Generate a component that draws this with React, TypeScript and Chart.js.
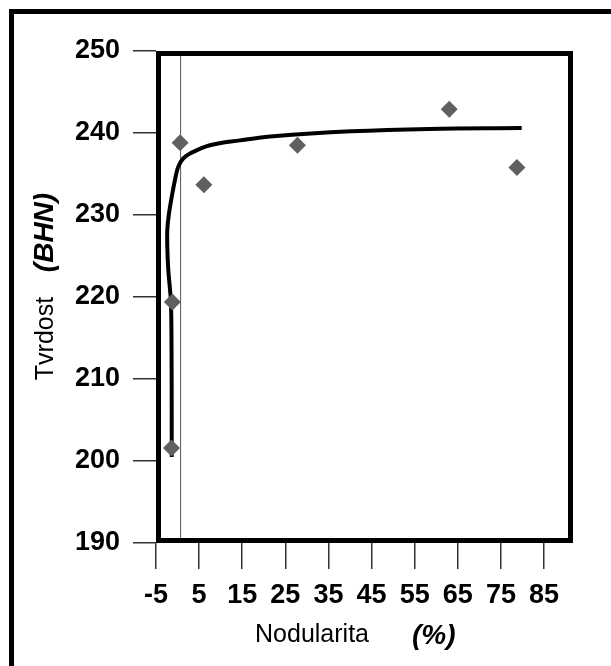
import { useEffect, useRef } from "react";
import { Chart, registerables } from "chart.js";

Chart.register(...registerables);

// Measured samples: nodularity (%) vs. hardness (BHN)
const nodularity = [-1.4, -1.2, 0.6, 6.1, 27.8, 63.0, 78.7];
const hardness = [201.6, 219.4, 238.8, 233.7, 238.5, 242.9, 235.8];

// Fitted trend curve
const trendNodularity = [-1.36, -1.36, -1.4, -1.52, -1.75, -2.15, -2.38, -2.38, -1.98, -1.36, -0.59, 0.17, 1.33, 2.89, 7.5, 14.5, 22.2, 40.2, 58.3, 79.8];
const trendHardness = [200.5, 205.9, 213.9, 219.3, 220.9, 223.3, 226.1, 228.2, 230.2, 232.2, 234.3, 235.9, 236.9, 237.5, 238.5, 239.1, 239.6, 240.2, 240.5, 240.6];

// Thin vertical marker line
const markerX = 0.7;

// Axes
const xMin = -5;
const xMax = 91.7;
const yMin = 190;
const yMax = 250;
const xTicks = [-5, 5, 15, 25, 35, 45, 55, 65, 75, 85];
const yTicks = [190, 200, 210, 220, 230, 240, 250];

const FONT = '"Liberation Sans", Arial, Helvetica, sans-serif';

const plotFrame = {
  id: "plotFrame",
  afterDatasetsDraw(chart: any) {
    const { ctx, chartArea: a } = chart;
    ctx.save();
    ctx.strokeStyle = "#000";
    ctx.lineWidth = 5;
    ctx.strokeRect(a.left + 2.5, a.top + 2.5, a.right - a.left - 5, a.bottom - a.top - 5);
    ctx.restore();
  },
};

const axisTitles = {
  id: "axisTitles",
  afterDraw(chart: any) {
    const { ctx } = chart;
    ctx.save();
    ctx.fillStyle = "#000";
    ctx.textBaseline = "alphabetic";

    ctx.font = `25px ${FONT}`;
    ctx.textAlign = "center";
    ctx.fillText("Nodularita", 312, 642);
    ctx.font = `italic bold 28px ${FONT}`;
    ctx.textAlign = "left";
    ctx.fillText("(%)", 412, 644);

    ctx.translate(53, 0);
    ctx.rotate(-Math.PI / 2);
    ctx.textAlign = "center";
    ctx.font = `25px ${FONT}`;
    ctx.fillText("Tvrdost", -338.5, 0);
    ctx.font = `italic bold 28px ${FONT}`;
    ctx.fillText("(BHN)", -232.5, 0);
    ctx.restore();
  },
};

export default function App() {
  const canvasRef = useRef<HTMLCanvasElement | null>(null);

  useEffect(() => {
    const canvas = canvasRef.current;
    if (!canvas) return;

    const tickFont = { family: FONT, size: 27, weight: "bold" as const };
    const grid = {
      drawOnChartArea: false,
      drawTicks: true,
      color: "#333",
      lineWidth: 1.5,
    };

    const chart = new Chart(canvas, {
      type: "scatter",
      data: {
        datasets: [
          {
            label: "Hardness",
            data: nodularity.map((x, i) => ({ x, y: hardness[i] })),
            pointStyle: "rectRot",
            pointRadius: 8.5,
            backgroundColor: "#606060",
            borderWidth: 0,
            order: 0,
          },
          {
            label: "Trend",
            data: trendNodularity.map((x, i) => ({ x, y: trendHardness[i] })),
            showLine: true,
            borderColor: "#000",
            borderWidth: 4,
            pointRadius: 0,
            tension: 0.4,
            order: 1,
          },
          {
            label: "Marker",
            data: [
              { x: markerX, y: yMin },
              { x: markerX, y: yMax },
            ],
            showLine: true,
            borderColor: "#555",
            borderWidth: 1,
            pointRadius: 0,
            order: 2,
          },
        ],
      },
      options: {
        responsive: false,
        animation: false,
        devicePixelRatio: 1,
        layout: { padding: { left: 0, top: 51, right: 38, bottom: 0 } },
        plugins: {
          legend: { display: false },
          tooltip: { enabled: false },
        },
        scales: {
          x: {
            type: "linear",
            min: xMin,
            max: xMax,
            afterBuildTicks: (s: any) => {
              s.ticks = xTicks.map((value) => ({ value }));
            },
            afterFit: (s: any) => {
              s.height = 123;
            },
            grid: { ...grid, tickLength: 26 },
            border: { display: false },
            ticks: { font: tickFont, color: "#000", padding: 10, maxRotation: 0, autoSkip: false },
          },
          y: {
            type: "linear",
            min: yMin,
            max: yMax,
            afterBuildTicks: (s: any) => {
              s.ticks = yTicks.map((value) => ({ value }));
            },
            afterFit: (s: any) => {
              s.width = 156;
            },
            grid: { ...grid, tickLength: 23 },
            border: { display: false },
            ticks: { font: tickFont, color: "#000", padding: 13, autoSkip: false },
          },
        },
      },
      plugins: [plotFrame, axisTitles],
    });

    return () => chart.destroy();
  }, []);

  return (
    <div style={{ position: "absolute", left: 0, top: 0, width: 611, height: 666, background: "#fff", overflow: "hidden" }}>
      <div
        style={{
          position: "absolute",
          left: 9,
          top: 9,
          right: 0,
          bottom: 0,
          borderTop: "5px solid #000",
          borderLeft: "5px solid #000",
        }}
      />
      <canvas ref={canvasRef} width={611} height={666} style={{ position: "absolute", left: 0, top: 0 }} />
    </div>
  );
}
